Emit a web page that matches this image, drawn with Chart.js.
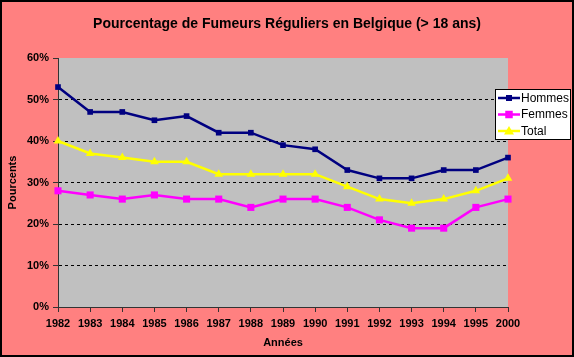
<!DOCTYPE html>
<html><head><meta charset="utf-8">
<script src="https://cdn.jsdelivr.net/npm/chart.js@4"></script>
<style>html,body{margin:0;padding:0;background:#FF8080;}#wrap{width:574px;height:357px;}</style>
</head><body><div id="wrap"><canvas id="c" width="574" height="357"></canvas></div>
<script>
const years = ['1982','1983','1984','1985','1986','1987','1988','1989','1990','1991','1992','1993','1994','1995','2000'];
const hommes = [53,47,47,45,46,42,42,39,38,33,31,31,33,33,36];
const femmes = [28,27,26,27,26,26,24,26,26,24,21,19,19,24,26];
const total  = [40,37,36,35,35,32,32,32,32,29,26,25,26,28,31];
const yTicks = [0,10,20,30,40,50,60];
const titleText = 'Pourcentage de Fumeurs Réguliers en Belgique (> 18 ans)';
const FONT = '"Liberation Sans", Arial, sans-serif';

const bgPlugin = {
  id:'bg',
  beforeDraw(chart){
    const {ctx, chartArea:a, width, height} = chart;
    ctx.save();
    ctx.fillStyle = '#FF8080';
    ctx.fillRect(0,0,width,height);
    ctx.fillStyle = '#C0C0C0';
    ctx.fillRect(a.left,a.top,a.right-a.left,a.bottom-a.top);
    ctx.restore();
  },
  afterDraw(chart){
    const {ctx,width,height} = chart;
    ctx.save();
    // title
    ctx.fillStyle = '#000';
    ctx.font = 'bold 14px ' + FONT;
    ctx.textAlign = 'center';
    ctx.textBaseline = 'middle';
    ctx.fillText(titleText, width/2, 24);
    ctx.textAlign = 'left';
    // frame
    ctx.strokeStyle = '#000';
    ctx.lineWidth = 2;
    ctx.strokeRect(1,1,width-2,height-2);
    // legend
    const x0 = 495, y0 = 89, w = 75, h = 50;
    ctx.fillStyle = '#fff';
    ctx.fillRect(x0,y0,w,h);
    ctx.lineWidth = 1;
    ctx.strokeStyle = '#000';
    ctx.strokeRect(x0+0.5,y0+0.5,w,h);
    ctx.font = '12px ' + FONT;
    ctx.textBaseline = 'middle';
    chart.data.datasets.forEach((ds,i)=>{
      const y = y0 + 9 + i*16.5;
      ctx.strokeStyle = ds.borderColor;
      ctx.lineWidth = 2.5;
      ctx.beginPath(); ctx.moveTo(x0+3,y); ctx.lineTo(x0+25,y); ctx.stroke();
      ctx.fillStyle = ds.backgroundColor;
      const r = ds.pointRadius;
      const cx = x0+14;
      if (ds.pointStyle === 'triangle') {
        ctx.beginPath(); ctx.moveTo(cx,y-r); ctx.lineTo(cx+r,y+r*0.7); ctx.lineTo(cx-r,y+r*0.7); ctx.closePath(); ctx.fill();
      } else {
        ctx.fillRect(cx-r*0.75,y-r*0.75,r*1.5,r*1.5);
      }
      ctx.fillStyle = '#000';
      ctx.fillText(ds.label, x0+26, y+0.5);
    });
    ctx.restore();
  }
};

new Chart(document.getElementById('c'), {
  type:'line',
  data:{
    labels: years,
    datasets:[
      {label:'Hommes', data:hommes, borderColor:'#000080', backgroundColor:'#000080', borderWidth:2.5, pointStyle:'rect', pointRadius:4, pointBorderWidth:0, tension:0},
      {label:'Femmes', data:femmes, borderColor:'#FF00FF', backgroundColor:'#FF00FF', borderWidth:2.5, pointStyle:'rect', pointRadius:5, pointBorderWidth:0, tension:0},
      {label:'Total', data:total, borderColor:'#FFFF00', backgroundColor:'#FFFF00', borderWidth:2.5, pointStyle:'triangle', pointRadius:5, pointBorderWidth:0, tension:0}
    ]
  },
  options:{
    responsive:false, animation:false,
    layout:{padding:{left:0,right:66,top:58,bottom:0}},
    plugins:{
      legend:{display:false}, tooltip:{enabled:false}, title:{display:false}
    },
    scales:{
      x:{
        offset:false,
        grid:{drawOnChartArea:false, drawTicks:true, tickLength:5, tickColor:'#333', tickWidth:1},
        border:{display:true,color:'#333',width:1},
        ticks:{color:'#000', padding:5, maxRotation:0, autoSkip:false, font:{family:FONT, size:11, weight:'bold'}},
        title:{display:true, text:'Années', color:'#000', font:{family:FONT, size:11, weight:'bold'}, padding:{top:2,bottom:7}},
        afterFit(s){ s.height = 50; }
      },
      y:{
        min:0,max:60,
        afterBuildTicks(s){ s.ticks = yTicks.map(v=>({value:v})); },
        grid:{drawOnChartArea:true, drawTicks:true, tickLength:5, tickColor:'#333', color:(c)=> (c.tick && (c.tick.value===0||c.tick.value===60)) ? 'rgba(0,0,0,0)' : '#000', lineWidth:1},
        border:{display:true,color:'#333',width:1,dash:[3,3]},
        ticks:{color:'#000', padding:4, callback:(v)=>v+'%', font:{family:FONT, size:11, weight:'bold'}},
        title:{display:true, text:'Pourcents', color:'#000', font:{family:FONT, size:11, weight:'bold'}, padding:{top:6,bottom:0}},
        afterFit(s){ s.width = 58; }
      }
    }
  },
  plugins:[bgPlugin]
});
</script></body></html>
